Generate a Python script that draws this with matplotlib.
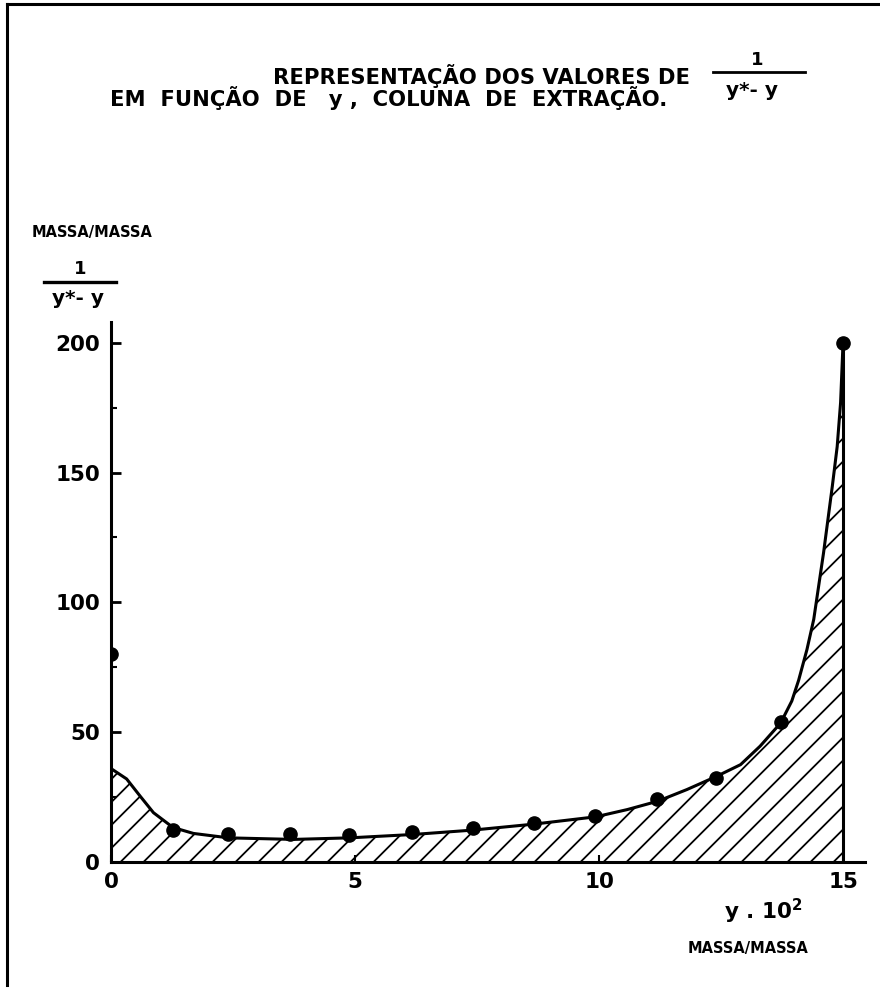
import numpy as np
import matplotlib.pyplot as plt
from matplotlib.lines import Line2D

plt.rcParams['font.family'] = ['DejaVu Sans']
plt.rcParams['font.weight'] = 'bold'

# measured points: y.10^2 (massa/massa) vs 1/(y*-y)
pts_x = [0.0, 1.27, 2.4, 3.66, 4.87, 6.17, 7.42, 8.66, 9.92, 11.19, 12.4, 13.72, 15.0]
pts_y = [80, 12.5, 10.9, 10.6, 10.3, 11.5, 13.2, 15.1, 17.7, 24.1, 32.5, 53.9, 200]

# hand drawn curve
curve_x = [0.0, 0.32, 0.6, 0.87, 1.27, 1.69, 2.41, 3.74, 4.89, 6.19, 7.42, 8.67,
           9.93, 10.58, 11.2, 11.8, 12.41, 12.9, 13.3, 13.72, 13.95, 14.09,
           14.26, 14.4, 14.6, 14.78, 14.88, 14.95, 15.0]
curve_y = [36, 32, 25.3, 19, 13.3, 11, 9.3, 8.7, 9.3, 10.6, 12.3, 14.6,
           17.4, 20.2, 23.4, 27.9, 33, 37.5, 44.6, 53.5, 62, 70,
           81.8, 93.5, 119, 144.7, 160, 177, 200]

x_ticks = [0, 5, 10, 15]
y_ticks = [0, 50, 100, 150, 200]
y_minor = [25, 75, 125, 175]

W, H = 880, 988


def fx(px):
    return px / W


def fy(py):
    return 1 - py / H


fig = plt.figure(figsize=(8.8, 9.88), dpi=100)
ax = fig.add_axes([fx(111), fy(862), 754 / W, 540 / H])
ax.set_xlim(0, 15.45)
ax.set_ylim(0, 208)

ax.plot(curve_x, curve_y, color='black', lw=2.2, solid_joinstyle='round')
ax.vlines(pts_x[-1], 0, pts_y[-1], color='black', lw=2.2)
ax.plot(pts_x, pts_y, 'o', color='black', ms=9.5)

# area under the curve, hatched by hand so the spacing matches
area = ax.fill_between(curve_x, 0, curve_y, facecolor='none', edgecolor='none')
clip = area.get_paths()[0]
slope = 540 / 754
for s in np.arange(-0.75, 1.0, 23 / 754):
    ln, = ax.plot([s, s + slope], [0, 1], color='black', lw=1.3,
                  transform=ax.transAxes)
    ln.set_clip_path(clip, ax.transData)

for side in ['top', 'right']:
    ax.spines[side].set_visible(False)
for side in ['left', 'bottom']:
    ax.spines[side].set_linewidth(2.2)

ax.set_xticks(x_ticks)
ax.set_yticks(y_ticks)
ax.set_yticks(y_minor, minor=True)
ax.tick_params(axis='y', which='major', direction='in', length=7, width=2,
               pad=8, labelsize=15.5)
ax.tick_params(axis='y', which='minor', direction='in', length=4, width=1.5)
ax.tick_params(axis='x', which='major', direction='in', length=5, width=1.5,
               pad=7, labelsize=15.5)
for lab in ax.get_xticklabels() + ax.get_yticklabels():
    lab.set_fontweight('bold')

# title
fig.text(fx(690), fy(76), 'REPRESENTAÇÃO DOS VALORES DE', ha='right',
         va='center', fontsize=15.2, fontweight='bold')
fig.text(fx(110), fy(98), 'EM  FUNÇÃO  DE   y ,  COLUNA  DE  EXTRAÇÃO.', ha='left',
         va='center', fontsize=15.2, fontweight='bold')
fig.text(fx(757), fy(60), '1', ha='center', va='center', fontsize=13,
         fontweight='bold')
fig.add_artist(Line2D([fx(713), fx(805)], [fy(72), fy(72)], color='black', lw=2))
fig.text(fx(752), fy(90), 'y*- y', ha='center', va='center', fontsize=14.5,
         fontweight='bold')

# y axis label
fig.text(fx(92), fy(232), 'MASSA/MASSA', ha='center', va='center', fontsize=10.5,
         fontweight='bold')
fig.text(fx(80), fy(269), '1', ha='center', va='center', fontsize=13,
         fontweight='bold')
fig.add_artist(Line2D([fx(44), fx(116)], [fy(282), fy(282)], color='black', lw=2.4))
fig.text(fx(78), fy(299), 'y*- y', ha='center', va='center', fontsize=14.5,
         fontweight='bold')

# x axis label
fig.text(fx(763), fy(911), r'y . 10$^{\mathbf{2}}$', ha='center', va='center',
         fontsize=15.5, fontweight='bold')
fig.text(fx(748), fy(948), 'MASSA/MASSA', ha='center', va='center', fontsize=10.5,
         fontweight='bold')

# frame of the page
fig.add_artist(Line2D([fx(7), fx(7)], [fy(4), fy(985)], color='black', lw=2.2))
fig.add_artist(Line2D([fx(7), fx(880)], [fy(4), fy(4)], color='black', lw=2.2))

fig.savefig('out.png', dpi=100)
